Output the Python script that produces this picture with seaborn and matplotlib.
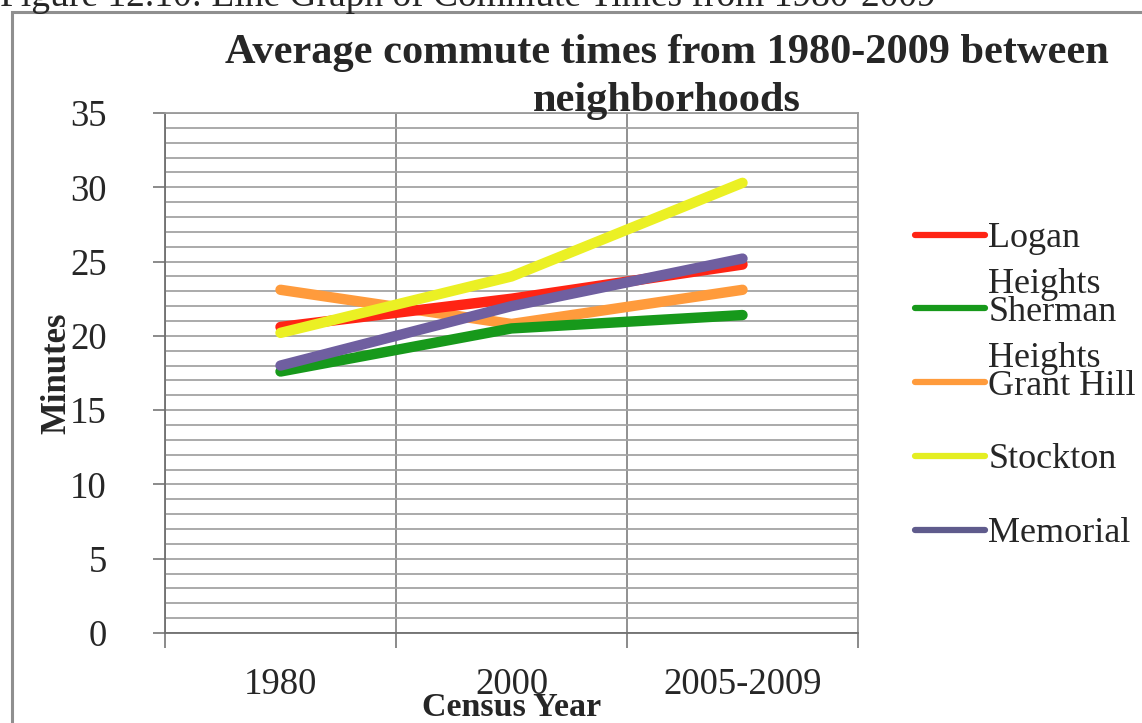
import numpy as np
import pandas as pd
import matplotlib
matplotlib.use("Agg")
import matplotlib.pyplot as plt
import seaborn as sns
from matplotlib.lines import Line2D
from matplotlib.patches import Rectangle

# ---- data ----
years = ["1980", "2000", "2005-2009"]
neighborhoods = ["Logan Heights", "Sherman Heights", "Grant Hill", "Stockton", "Memorial"]
logan = [20.6, 22.5, 24.8]
sherman = [17.6, 20.5, 21.4]
grant_hill = [23.1, 20.8, 23.1]
stockton = [20.2, 24.0, 30.3]
memorial = [18.0, 22.0, 25.2]
line_colors = ["#ff2414", "#17991b", "#ff9b3c", "#ebf024", "#6f5fa0"]
legend_colors = ["#ff2414", "#17991b", "#ff9b3c", "#e4ee22", "#5f5b8c"]
draw_rank = [2, 1, 0, 3, 4]  # stacking order of the series

series = [logan, sherman, grant_hill, stockton, memorial]
rows = []
for name, vals in zip(neighborhoods, series):
    for i, (yr, v) in enumerate(zip(years, vals)):
        rows.append({"neighborhood": name, "pos": i, "year": yr, "minutes": v})
df = pd.DataFrame(rows)

sns.set_theme(style="white")
plt.rcParams["font.family"] = ["Liberation Serif", "DejaVu Serif"]

W, H = 1142, 723
fig = plt.figure(figsize=(W / 100, H / 100), dpi=100)
fig.patch.set_facecolor("white")

# outer chart frame
fig.patches.append(Rectangle((12 / W, -0.05), 1.2, 1 - 12 / H + 0.05,
                             transform=fig.transFigure, fill=False,
                             edgecolor="#8f8f8f", lw=2.2, zorder=0))

ax = fig.add_axes([165 / W, 1 - 633 / H, (858 - 165) / W, (633 - 113) / H])
ax.set_facecolor("white")

sns.lineplot(data=df, x="pos", y="minutes", hue="neighborhood",
             hue_order=neighborhoods, palette=line_colors, lw=7.5,
             errorbar=None, legend=False, ax=ax, solid_capstyle="round")
for line, rank in zip(ax.lines, draw_rank):
    line.set_zorder(3 + rank * 0.1)

# axes
ax.set_ylim(0, 35)
ax.set_xlim(-0.5, len(years) - 0.5)
ax.set_yticks(np.arange(0, 36, 5))
ax.set_yticks(np.arange(0, 36, 1), minor=True)
ax.set_yticklabels([str(v) for v in range(0, 36, 5)])
ax.set_xticks(np.arange(-0.5, len(years), 1.0))
ax.set_xticklabels([])
ax.set_xticks(np.arange(len(years)), labels=years, minor=True)

ax.grid(which="both", axis="y", color="#a4a4a4", lw=1.3, zorder=1)
ax.grid(which="major", axis="x", color="#888888", lw=1.3, zorder=1)
ax.set_axisbelow(True)

ax.tick_params(axis="y", which="major", direction="out", length=9, width=1.2,
               color="#777777", labelsize=26.5, pad=33, left=True)
ax.tick_params(axis="y", which="minor", length=0, left=False)
ax.tick_params(axis="x", which="major", direction="out", length=11, width=1.2,
               color="#777777", bottom=True)
ax.tick_params(axis="x", which="minor", length=0, labelsize=26.5, pad=25)

for s in ["left", "bottom"]:
    ax.spines[s].set_color("#707070")
    ax.spines[s].set_linewidth(1.3)
for s in ["top", "right"]:
    ax.spines[s].set_color("#9a9a9a")
    ax.spines[s].set_linewidth(1.3)

ax.set_ylabel("Minutes", fontsize=25, fontweight="bold")
ax.yaxis.set_label_coords(-0.132, 0.5)
ax.set_xlabel("Census Year", fontsize=24.5, fontweight="bold", va="top")
ax.xaxis.set_label_coords(0.5, -0.114)

# titles
fig.text(0.584, 1 - 77 / H, "Average commute times from 1980-2009 between\nneighborhoods",
         ha="center", va="center", fontsize=30.5, fontweight="bold", linespacing=1.32)
fig.text(0.0, 1 - 6 / H, "Figure 12.10: Line Graph of Commute Times from 1980-2009",
         ha="left", va="baseline", fontsize=27)

# legend
legend_labels = [n.replace(" Heights", "") for n in neighborhoods]
handles = [Line2D([0], [0], color=c, lw=4.5) for c in legend_colors]
leg = fig.legend(handles, legend_labels, loc="upper left",
                 bbox_to_anchor=(915 / W, 1 - 222 / H), frameon=False,
                 fontsize=26, handlelength=1.95, handletextpad=0.08,
                 labelspacing=1.12, borderpad=0, borderaxespad=0)

fig.canvas.draw()
inv = fig.transFigure.inverted()
for name, txt in zip(neighborhoods, leg.get_texts()):
    if " Heights" in name:
        bb = txt.get_window_extent()
        x, y = inv.transform((bb.x0, bb.y0 - 46))
        fig.text(x, y, "Heights", fontsize=26, ha="left", va="bottom")

fig.savefig("out.png", dpi=100)
